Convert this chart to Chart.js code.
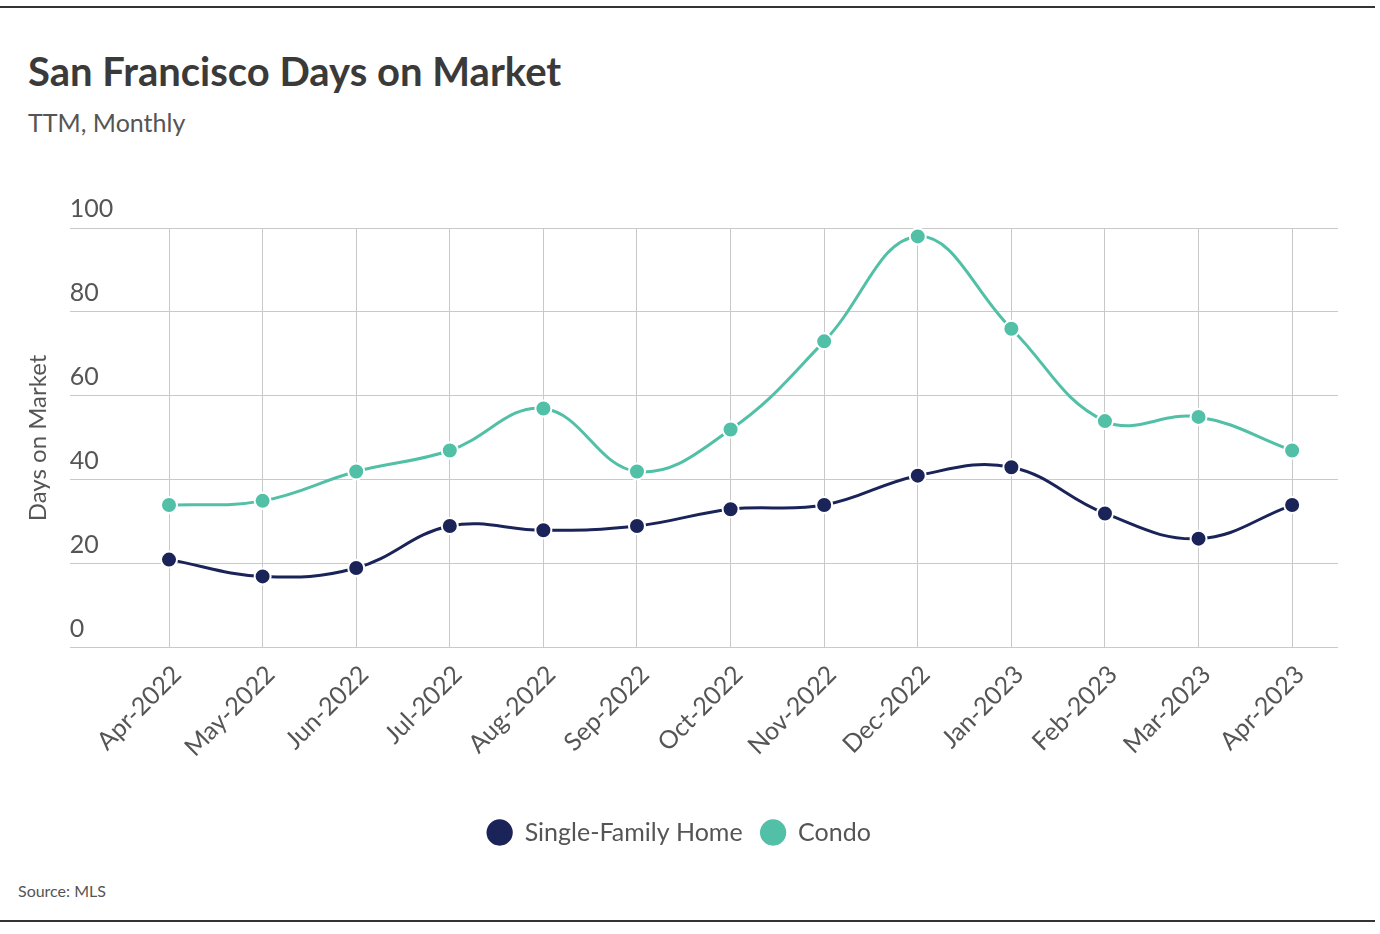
<!DOCTYPE html>
<html>
<head>
<meta charset="utf-8">
<script src="https://cdn.jsdelivr.net/npm/chart.js@4.4.1/dist/chart.umd.min.js"></script>
<style>
  body { margin: 0; background: #fff; width: 1380px; height: 934px; position: relative; overflow: hidden;
         font-family: Lato, sans-serif; }
  .rule { position: absolute; left: 0; width: 1375px; height: 2px; background: #333; }
  #title { position: absolute; left: 28px; top: 47px; font-size: 40px; font-weight: bold; color: #3a3a3a; }
  #subtitle { position: absolute; left: 28px; top: 107px; font-size: 25px; color: #555; }
  #source { position: absolute; left: 18px; top: 881px; font-size: 16px; color: #555; }
  #wrap { position: absolute; left: 0; top: 170px; width: 1380px; height: 710px; }
</style>
</head>
<body>
<div class="rule" style="top:6px"></div>
<div id="title">San Francisco Days on Market</div>
<div id="subtitle">TTM, Monthly</div>
<div id="wrap"><canvas id="chart"></canvas></div>
<div id="source">Source: MLS</div>
<div class="rule" style="top:920px"></div>
<script>
// Chart data
const months = ['Apr-2022', 'May-2022', 'Jun-2022', 'Jul-2022', 'Aug-2022', 'Sep-2022', 'Oct-2022',
  'Nov-2022', 'Dec-2022', 'Jan-2023', 'Feb-2023', 'Mar-2023', 'Apr-2023'];
const singleFamily = [21, 17, 19, 29, 28, 29, 33, 34, 41, 43, 32, 26, 34];
const condo = [34, 35, 42, 47, 57, 42, 52, 73, 98, 76, 54, 55, 47];

const fontFamily = 'Lato, sans-serif';
const textColor = '#555';
const gridColor = '#c9c9c9';

function toPoints(values) {
  return values.map((v, i) => ({ x: i, y: v }));
}

function makeDataset(label, values, color) {
  return {
    label: label,
    data: toPoints(values),
    borderColor: color,
    backgroundColor: color,
    pointBackgroundColor: color,
    pointBorderColor: '#fff',
    pointBorderWidth: 2,
    pointRadius: 8,
    borderWidth: 3,
    tension: 0.4
  };
}

const ctx = document.getElementById('chart').getContext('2d');
new Chart(ctx, {
  type: 'line',
  data: {
    datasets: [
      makeDataset('Single-Family Home', singleFamily, '#1b2459'),
      makeDataset('Condo', condo, '#52bfa7')
    ]
  },
  options: {
    responsive: true,
    maintainAspectRatio: false,
    animation: false,
    layout: { padding: { left: 20, right: 42, top: 58, bottom: 25 } },
    plugins: {
      legend: {
        position: 'bottom',
        labels: {
          usePointStyle: true,
          boxWidth: 28,
          boxHeight: 20,
          padding: 18,
          color: textColor,
          font: { family: fontFamily, size: 25 }
        }
      },
      tooltip: { enabled: false }
    },
    scales: {
      x: {
        type: 'linear',
        min: -1.06,
        max: 12.49,
        afterBuildTicks: axis => { axis.ticks = months.map((m, i) => ({ value: i })); },
        grid: { color: gridColor, drawTicks: false },
        border: { display: false },
        ticks: {
          minRotation: 45,
          maxRotation: 45,
          padding: 12,
          labelOffset: 8,
          color: textColor,
          font: { family: fontFamily, size: 25 },
          callback: value => months[value]
        },
        // empty title used as spacing between the tick labels and the legend
        title: { display: true, text: '', padding: 0, font: { size: 23 } }
      },
      y: {
        min: 0,
        max: 100,
        grid: { color: gridColor, drawTicks: false },
        border: { display: false },
        ticks: {
          stepSize: 20,
          mirror: true,
          padding: 0,
          labelOffset: -19,
          color: textColor,
          font: { family: fontFamily, size: 25 }
        },
        title: {
          display: true,
          text: 'Days on Market',
          color: textColor,
          padding: { top: 4, bottom: 17 },
          font: { family: fontFamily, size: 24 }
        }
      }
    }
  }
});
</script>
</body>
</html>
